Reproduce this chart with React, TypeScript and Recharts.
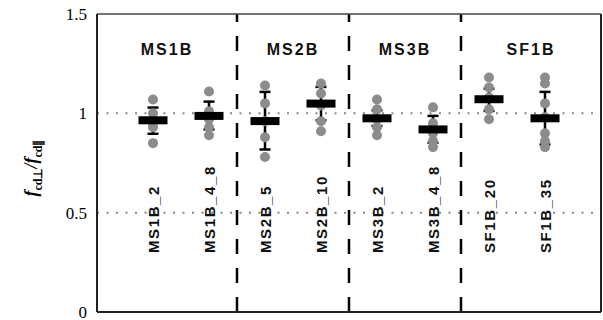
import {
  ComposedChart,
  Scatter,
  XAxis,
  YAxis,
  ErrorBar,
  ReferenceLine,
} from "recharts";

const categories = [
  "MS1B_2",
  "MS1B_4_8",
  "MS2B_5",
  "MS2B_10",
  "MS3B_2",
  "MS3B_4_8",
  "SF1B_20",
  "SF1B_35",
];
const means = [0.965, 0.987, 0.961, 1.049, 0.975, 0.919, 1.071, 0.975];
const lower = [0.897, 0.919, 0.818, 0.965, 0.936, 0.852, 1.012, 0.843];
const upper = [1.029, 1.059, 1.108, 1.133, 1.015, 0.987, 1.124, 1.108];
const samples = [
  [1.07, 1.0, 0.95, 0.93, 0.85],
  [1.11, 1.01, 0.97, 0.93, 0.89],
  [1.14, 1.05, 0.96, 0.88, 0.78],
  [1.15, 1.1, 1.04, 0.96, 0.91],
  [1.07, 1.02, 0.97, 0.93, 0.89],
  [1.03, 0.95, 0.9, 0.86, 0.83],
  [1.18, 1.13, 1.08, 1.02, 0.97],
  [1.18, 1.15, 1.05, 0.98, 0.9, 0.86, 0.83],
];
const groups = ["MS1B", "MS2B", "MS3B", "SF1B"];
const groupBounds = [0, 2.5, 4.5, 6.5, 9];
const yTicks = [0, 0.5, 1, 1.5];
const gridValues = [0.5, 1];

const positions = categories.map((_, i) => i + 1);
const groupCenters = groups.map((_, i) => (groupBounds[i] + groupBounds[i + 1]) / 2);
const separators = groupBounds.slice(1, -1);

const meanData = categories.map((name, i) => ({
  x: positions[i],
  y: means[i],
  err: [means[i] - lower[i], upper[i] - means[i]],
  name,
}));

const sampleData = samples.flatMap((vals, i) =>
  vals.map((v) => ({ x: positions[i], y: v }))
);

const sans = "'Liberation Sans', Arial, sans-serif";
const serif = "'Liberation Serif', 'Times New Roman', serif";

function CategoryTick({ x, payload }: any) {
  const i = positions.indexOf(payload.value);
  if (i < 0) return null;
  return (
    <text
      transform={`translate(${x + 6}, 253) rotate(-90)`}
      textAnchor="start"
      fontFamily={sans}
      fontWeight="bold"
      fontSize={15}
      letterSpacing={1.6}
      fill="#111"
    >
      {categories[i]}
    </text>
  );
}

function GroupTick({ x, payload }: any) {
  const i = groupCenters.findIndex((c) => Math.abs(c - payload.value) < 1e-6);
  return (
    <text
      x={x}
      y={55}
      textAnchor="middle"
      fontFamily={sans}
      fontWeight="bold"
      fontSize={16}
      letterSpacing={2}
      fill="#111"
    >
      {i >= 0 ? groups[i] : ""}
    </text>
  );
}

function MeanBar({ cx, cy }: any) {
  return <rect x={cx - 14.5} y={cy - 4} width={29} height={8} fill="#000" />;
}

function Dot({ cx, cy }: any) {
  return <circle cx={cx} cy={cy} r={5} fill="#8c8c8c" />;
}

function YLabel() {
  return (
    <text
      transform="translate(37, 168) rotate(-90)"
      textAnchor="middle"
      fontFamily={serif}
      fontWeight="bold"
      fill="#000"
    >
      <tspan fontSize={18} fontStyle="italic">f</tspan>
      <tspan fontSize={12} dy={5}>cd⊥</tspan>
      <tspan fontSize={18} dy={-5} fontStyle="italic">/f</tspan>
      <tspan fontSize={12} dy={5}>cd∥</tspan>
    </text>
  );
}

export default function App() {
  return (
    <div style={{ position: "absolute", left: 0, top: 0 }}>
      <ComposedChart
        width={603}
        height={320}
        margin={{ top: 0, right: 0, bottom: 0, left: 0 }}
      >
        <XAxis
          dataKey="x"
          type="number"
          domain={[0, 9]}
          ticks={positions}
          interval={0}
          tick={<CategoryTick />}
          tickLine={false}
          height={8}
          axisLine={{ stroke: "#222", strokeWidth: 2 }}
        />
        <XAxis
          xAxisId="top"
          dataKey="x"
          orientation="top"
          type="number"
          domain={[0, 9]}
          ticks={groupCenters}
          interval={0}
          tick={<GroupTick />}
          tickLine={false}
          height={14}
          axisLine={{ stroke: "#444", strokeWidth: 1.5 }}
        />
        <YAxis
          dataKey="y"
          type="number"
          domain={[0, 1.5]}
          ticks={yTicks}
          interval={0}
          width={97}
          tickSize={0}
          tickMargin={10}
          tickLine={false}
          axisLine={{ stroke: "#222", strokeWidth: 2 }}
          tick={{ fontFamily: serif, fontSize: 17, fill: "#000" }}
          allowDataOverflow
          label={{ content: () => <YLabel /> }}
        />
        <YAxis
          yAxisId="right"
          orientation="right"
          type="number"
          domain={[0, 1.5]}
          width={2}
          tick={false}
          tickLine={false}
          axisLine={{ stroke: "#222", strokeWidth: 2 }}
        />
        {gridValues.map((v) => (
          <ReferenceLine
            key={`g${v}`}
            y={v}
            stroke="#888"
            strokeWidth={2}
            strokeDasharray="2 7.5"
          />
        ))}
        {separators.map((s) => (
          <ReferenceLine
            key={`s${s}`}
            x={s}
            stroke="#000"
            strokeWidth={2.5}
            strokeDasharray="15 14"
          />
        ))}
        <Scatter
          data={sampleData}
          shape={<Dot />}
          isAnimationActive={false}
        />
        <Scatter
          xAxisId="top"
          data={meanData}
          shape={<MeanBar />}
          isAnimationActive={false}
        >
          <ErrorBar
            dataKey="err"
            direction="y"
            width={5.5}
            stroke="#000"
            strokeWidth={2.5}
            isAnimationActive={false}
          />
        </Scatter>
      </ComposedChart>
    </div>
  );
}
